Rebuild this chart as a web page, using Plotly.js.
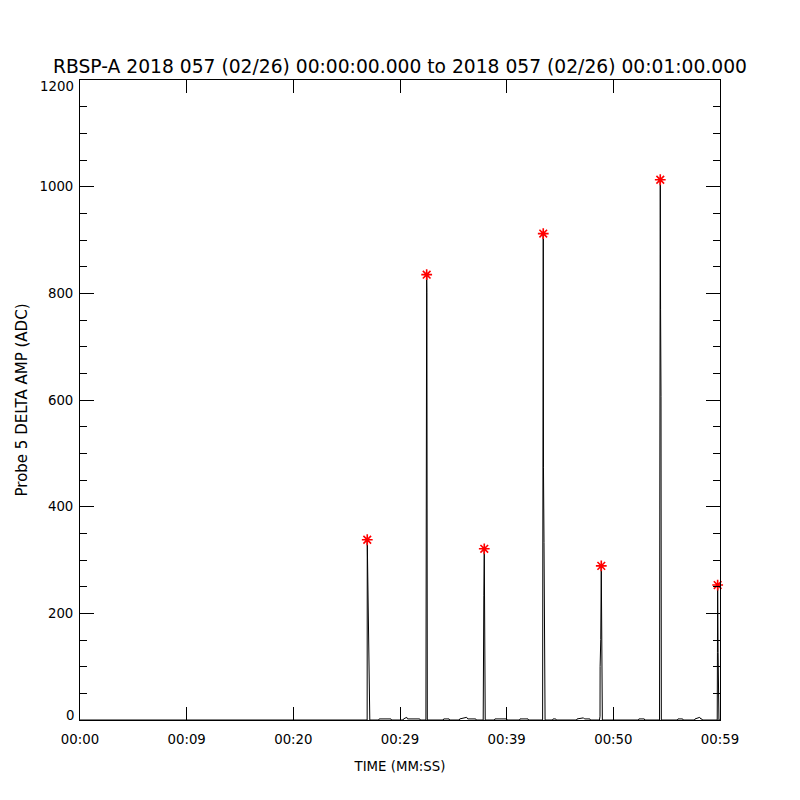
<!DOCTYPE html>
<html>
<head>
<meta charset="utf-8">
<script src="https://cdn.plot.ly/plotly-3.0.1.min.js"></script>
<style>html,body{margin:0;padding:0;background:#fff;}#chart{width:800px;height:800px;}</style>
</head>
<body>
<div id="chart"></div>
<script>
// Time (seconds after 00:00:00) and probe 5 delta amplitude (ADC)
var times = [
  0, 26.92, 26.93, 27.02, 27.12, 27.17,
  28.00, 28.05, 29.15, 29.20,
  30.28, 30.33, 30.63, 30.70, 31.85, 31.90,
  32.43, 32.44, 32.47, 32.50, 32.52, 32.54, 32.56,
  34.05, 34.10, 34.60, 34.65,
  35.55, 35.60, 36.25, 36.35, 37.10, 37.15,
  37.80, 37.81, 37.86, 37.90, 37.93, 37.96, 37.99,
  38.85, 38.90, 40.00, 40.05,
  41.20, 41.25, 42.00, 42.05,
  43.37, 43.38, 43.41, 43.43, 43.45, 43.50, 43.56, 43.60,
  44.30, 44.35, 44.60, 44.65,
  46.55, 46.60, 47.20, 47.30, 47.80, 47.85,
  48.70, 48.72, 48.75, 48.76, 48.82, 48.87, 48.90, 48.94, 48.97,
  52.35, 52.40, 52.90, 52.95,
  54.33, 54.34, 54.37, 54.40, 54.43, 54.47, 54.50,
  56.00, 56.06, 56.50, 56.55,
  57.60, 57.66, 58.10, 58.20, 58.30, 58.35,
  59.74, 59.76, 59.78, 59.82, 59.90, 60.00
];
var amps = [
  0, 0, 338, 218, 50, 0,
  0, 2, 2, 0,
  0, 2, 5, 2, 2, 0,
  0, 425, 802, 835, 802, 425, 0,
  0, 2, 2, 0,
  0, 2, 5, 2, 2, 0,
  0, 179, 234, 321, 234, 179, 0,
  0, 2, 2, 0,
  0, 2, 2, 0,
  0, 333, 474, 912, 474, 333, 18, 0,
  0, 2, 2, 0,
  0, 2, 4, 2, 2, 0,
  0, 7, 7, 100, 151, 289, 151, 100, 0,
  0, 2, 2, 0,
  0, 607, 769, 1013, 769, 607, 0,
  0, 2, 2, 0,
  0, 2, 5, 2, 2, 0,
  0, 127, 253, 127, 0, 0
];
// Detected peaks (red asterisks)
var peakTimes = [26.93, 32.50, 37.90, 43.43, 48.87, 54.40, 59.78];
var peakAmps  = [338, 835, 321, 912, 289, 1013, 253];
// X tick labels
var xTickVals = [0, 10, 20, 30, 40, 50, 60];
var xTickText = ["00:00", "00:09", "00:20", "00:29", "00:39", "00:50", "00:59"];
// Y tick labels (end labels drawn inset, as in the reference)
var yTickVals = [0, 200, 400, 600, 800, 1000, 1200];
var yTickText = ["", "200", "400", "600", "800", "1000", ""];
var yEndVals = [0, 1200];
var yEndText = ["0", "1200"];

var font = "DejaVu Sans, Liberation Sans, sans-serif";

var traces = [
  {
    x: times, y: amps, type: "scatter", mode: "lines",
    line: {color: "#000", width: 1}, hoverinfo: "skip", cliponaxis: true
  },
  {
    x: peakTimes, y: peakAmps, type: "scatter", mode: "markers",
    marker: {symbol: "asterisk", size: 9, color: "#ff0000", line: {color: "#ff0000", width: 1.6}},
    cliponaxis: false
  }
];

var annotations = yEndVals.map(function (v, i) {
  return {
    xref: "paper", yref: "y", x: 0, y: v, text: yEndText[i], showarrow: false,
    xanchor: "right", yanchor: "middle", xshift: -4, yshift: (v === 0 ? 5 : -6),
    font: {family: font, size: 13.3, color: "#000"}
  };
});

var layout = {
  width: 800, height: 800,
  paper_bgcolor: "#fff", plot_bgcolor: "#fff",
  showlegend: false,
  margin: {l: 80, r: 80, t: 80, b: 80, pad: 0},
  font: {family: font, color: "#000", size: 13.3},
  title: {
    text: "RBSP-A 2018 057 (02/26) 00:00:00.000 to 2018 057 (02/26) 00:01:00.000",
    font: {family: font, size: 18.7, color: "#000"},
    x: 0.5, xanchor: "center", xref: "container",
    y: 1 - 66 / 800, yanchor: "middle", yref: "container"
  },
  annotations: annotations,
  xaxis: {
    range: [0, 60], tickmode: "array", tickvals: xTickVals, ticktext: xTickText,
    ticks: "inside", ticklen: 13, tickwidth: 1, tickcolor: "#000",
    showline: true, linecolor: "#000", linewidth: 1, mirror: "ticks",
    showgrid: false, zeroline: false, ticklabelstandoff: 7,
    tickfont: {family: font, size: 13.3, color: "#000"},
    title: {text: "TIME (MM:SS)", font: {family: font, size: 13.3, color: "#000"}, standoff: 15}
  },
  yaxis: {
    range: [0, 1200], tickmode: "array", tickvals: yTickVals, ticktext: yTickText,
    ticks: "inside", ticklen: 14, tickwidth: 1, tickcolor: "#000",
    minor: {dtick: 50, ticks: "inside", ticklen: 7, tickwidth: 1, tickcolor: "#000", showgrid: false},
    showline: true, linecolor: "#000", linewidth: 1, mirror: "ticks",
    showgrid: false, zeroline: false, ticklabelstandoff: 3,
    tickfont: {family: font, size: 13.3, color: "#000"},
    title: {text: "Probe 5 DELTA AMP (ADC)", font: {family: font, size: 15, color: "#000"}, standoff: 8}
  }
};

Plotly.newPlot("chart", traces, layout, {staticPlot: true, displayModeBar: false});
</script>
</body>
</html>
